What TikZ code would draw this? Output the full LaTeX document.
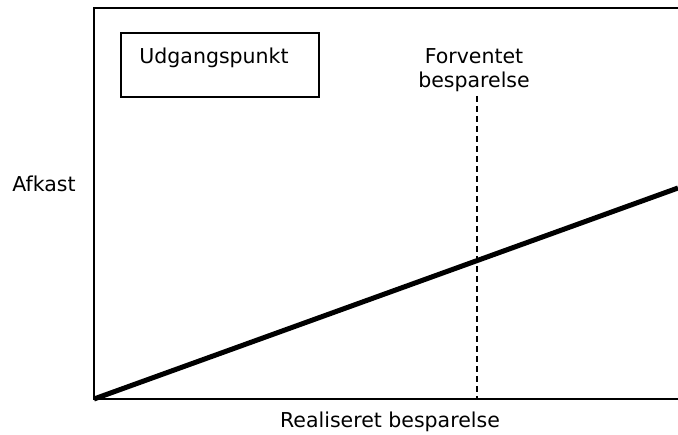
\documentclass[tikz,border=0pt]{standalone}
\usepackage{fontspec}
\setmainfont{DejaVu Sans}
\begin{document}
\begin{tikzpicture}[x=1pt,y=-1pt,
  lbl/.style={font=\fontsize{20.5}{24}\selectfont, inner sep=0pt, align=center},
  axis/.style={line width=2.6pt},
  trend/.style={line width=5pt},
  marker/.style={line width=1.8pt, dash pattern=on 6pt off 4pt}]
\useasboundingbox (0,0) rectangle (678,435);
% plot frame
\coordinate (tr) at (678,8);
\coordinate (tl) at (94,8);
\coordinate (o) at (94,399);
\coordinate (br) at (678,399);
\draw[axis] (tr) -- (tl) -- (o) -- (br);
% legend box
\node[draw, line width=2pt, minimum width=198pt, minimum height=64pt, inner sep=0pt] (box) at (220,65) {};
\node[lbl] (start) at (214,58) {Udgangspunkt};
% expected saving marker
\node[lbl] (exp) at (474,70) {Forventet\\besparelse};
\coordinate (mtop) at (477,96);
\coordinate (mbot) at (477,399);
\draw[marker] (mtop) -- (mbot);
% return line
\coordinate (tend) at (678,188);
\draw[trend] (o) -- (tend);
% axis labels
\node[lbl] (ylab) at (44,184) {Afkast};
\node[lbl] (xlab) at (390,422) {Realiseret besparelse};
\end{tikzpicture}
\end{document}
